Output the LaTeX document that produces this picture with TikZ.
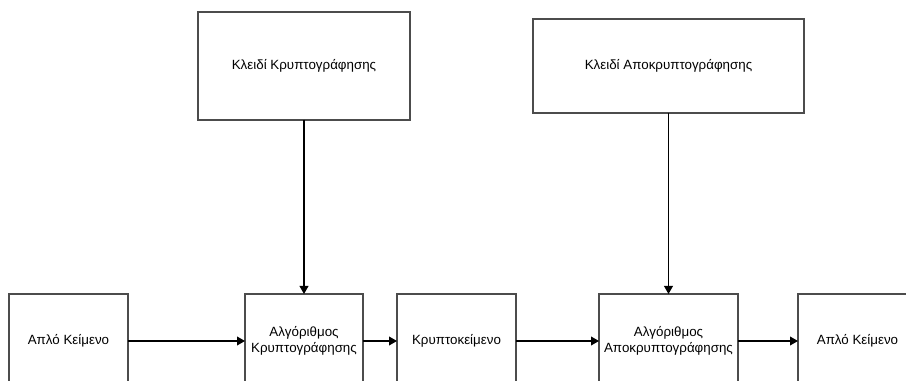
\documentclass[tikz,border=0pt]{standalone}
\usepackage{fontspec}
\setmainfont{Liberation Sans}
\usetikzlibrary{positioning,arrows.meta}

\begin{document}
\begin{tikzpicture}[
  font=\fontsize{9.5}{11}\selectfont,
  >={Triangle[length=2mm, width=2.2mm]},
  box/.style={draw=black!70, line width=0.35mm, align=center, inner sep=2pt, outer sep=0pt, minimum height=23.5mm},
  txtbox/.style={box, minimum width=29.75mm},
  algbox/.style={box},
  keybox/.style={box},
  arr/.style={->, line width=0.3mm},
]

% ============ PAGE (bottom row runs off the lower edge) ============
\useasboundingbox (-17.125mm,-10mm) rectangle (209.375mm,85.25mm);
\clip (-17.125mm,-10mm) rectangle (209.375mm,85.25mm);

% ============ MAIN CHAIN (bottom) ============
\node[txtbox] (plain) {Απλό Κείμενο};
\node[algbox, minimum width=29.5mm, right=29.25mm of plain] (enc) {Αλγόριθμος\\ Κρυπτογράφησης};
\node[txtbox, right=8.5mm of enc] (cipher) {Κρυπτοκείμενο};
\node[algbox, minimum width=34.75mm, right=20.75mm of cipher] (dec) {Αλγόριθμος\\ Αποκρυπτογράφησης};
\node[txtbox, right=15mm of dec] (plainout) {Απλό Κείμενο};
\draw[arr] (plain) -- (enc);
\draw[arr] (enc) -- (cipher);
\draw[arr] (cipher) -- (dec);
\draw[arr] (dec) -- (plainout);

% ============ KEYS (top) ============
\node[keybox, minimum width=53mm, minimum height=27mm, above=43.5mm of enc] (enckey) {Κλειδί Κρυπτογράφησης};
\node[keybox, minimum width=67.75mm, above=45.25mm of dec] (deckey) {Κλειδί Αποκρυπτογράφησης};
\draw[arr] (enckey) -- (enc);
\draw[arr] (deckey) -- (dec);

\end{tikzpicture}
\end{document}
